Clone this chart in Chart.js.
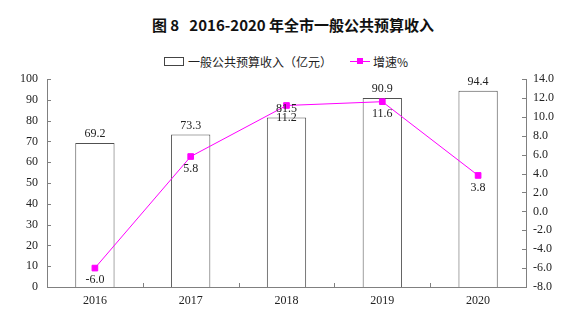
<!DOCTYPE html>
<html>
<head>
<meta charset="utf-8">
<script src="https://cdn.jsdelivr.net/npm/chart.js"></script>
<style>
	html, body { margin: 0; padding: 0; background: #fff; }
	#wrap { position: relative; width: 586px; height: 325px; }
	#title {
		position: absolute; left: 0; top: 14px; width: 586px; text-align: center;
		font: 15px "Noto Sans CJK SC", sans-serif; font-weight: 600; color: #111;
	}
	#legend {
		position: absolute; left: 164px; top: 52px; height: 18px;
		font: 12px "Noto Sans CJK SC", sans-serif; color: #222;
		display: flex; align-items: center; white-space: nowrap;
	}
	.box { width: 18px; height: 7px; border: 1px solid #444; background: #fff; margin-right: 4px; }
	.ln { position: relative; width: 20px; height: 1px; background: #ff00ff; margin: 0 3px 0 18px; }
	.ln i { position: absolute; left: 7px; top: -3px; width: 6px; height: 6px; background: #ff00ff; }
	canvas { position: absolute; left: 0; top: 0; }
</style>
</head>
<body>
<div id="wrap">
	<div id="title">图 8&nbsp;&nbsp;&nbsp;2016-2020 年全市一般公共预算收入</div>
	<div id="legend">
		<span class="box"></span><span>一般公共预算收入（亿元）</span>
		<span class="ln"><i></i></span><span>增速%</span>
	</div>
	<canvas id="revenue-chart" width="586" height="325"></canvas>
</div>
<script>
	const years = ['2016', '2017', '2018', '2019', '2020'];
	const revenue = [69.2, 73.3, 81.5, 90.9, 94.4];   // 亿元
	const growth = [-6.0, 5.8, 11.2, 11.6, 3.8];      // %

	const numFont = { family: '"Liberation Serif", "DejaVu Serif", serif', size: 12 };
	const axisColor = '#808080';

	// value labels: bars above the top, line points below the marker
	const valueLabels = {
		id: 'valueLabels',
		afterDatasetsDraw(chart) {
			const ctx = chart.ctx;
			ctx.save();
			ctx.font = '12px ' + numFont.family;
			ctx.fillStyle = '#222';
			ctx.textAlign = 'center';
			ctx.textBaseline = 'middle';
			chart.data.datasets.forEach((ds, i) => {
				chart.getDatasetMeta(i).data.forEach((el, j) => {
					const txt = ds.data[j].toFixed(1);
					if (ds.type === 'bar') {
						ctx.fillText(txt, el.x, el.y - 9);
					} else {
						ctx.fillText(txt, el.x, el.y + 12);
					}
				});
			});
			ctx.restore();
		}
	};

	// short tick marks pointing into the plot
	const innerTicks = {
		id: 'innerTicks',
		afterDraw(chart) {
			const ctx = chart.ctx;
			const area = chart.chartArea;
			const len = 4;
			ctx.save();
			ctx.strokeStyle = axisColor;
			ctx.lineWidth = 1;
			ctx.beginPath();
			chart.scales.y.ticks.forEach(t => {
				const y = Math.round(chart.scales.y.getPixelForValue(t.value)) + 0.5;
				ctx.moveTo(area.left, y);
				ctx.lineTo(area.left + len, y);
			});
			chart.scales.y1.ticks.forEach(t => {
				const y = Math.round(chart.scales.y1.getPixelForValue(t.value)) + 0.5;
				ctx.moveTo(area.right, y);
				ctx.lineTo(area.right - len, y);
			});
			const xs = chart.scales.x;
			for (let i = 1; i < years.length; i++) {
				const x = Math.round((xs.getPixelForValue(i - 1) + xs.getPixelForValue(i)) / 2) + 0.5;
				ctx.moveTo(x, area.bottom);
				ctx.lineTo(x, area.bottom - len);
			}
			ctx.stroke();
			ctx.restore();
		}
	};

	new Chart(document.getElementById('revenue-chart'), {
		data: {
			labels: years,
			datasets: [
				{
					type: 'line',
					label: '增速%',
					data: growth,
					yAxisID: 'y1',
					borderColor: '#ff00ff',
					backgroundColor: '#ff00ff',
					borderWidth: 1,
					pointStyle: 'rect',
					pointRadius: 4,
					pointHoverRadius: 4,
					tension: 0,
					order: 0
				},
				{
					type: 'bar',
					label: '一般公共预算收入（亿元）',
					data: revenue,
					yAxisID: 'y',
					backgroundColor: '#ffffff',
					borderColor: '#505050',
					borderWidth: 1,
					categoryPercentage: 1,
					barPercentage: 0.41,
					order: 1
				}
			]
		},
		options: {
			responsive: false,
			animation: false,
			layout: { padding: { top: 79, left: 0, right: 0, bottom: 0 } },
			plugins: {
				legend: { display: false },
				tooltip: { enabled: false }
			},
			scales: {
				x: {
					offset: true,
					grid: { display: false, drawTicks: false, offset: true },
					border: { display: true, color: axisColor },
					ticks: { color: '#222', font: numFont, padding: 7 },
					afterFit(s) { s.height = 38; }
				},
				y: {
					position: 'left',
					min: 0,
					max: 100,
					grid: { display: false, drawTicks: false },
					border: { display: true, color: axisColor },
					ticks: { stepSize: 10, color: '#222', font: numFont, padding: 9 },
					afterFit(s) { s.width = 47; }
				},
				y1: {
					position: 'right',
					min: -8,
					max: 14,
					grid: { display: false, drawTicks: false },
					border: { display: true, color: axisColor },
					ticks: {
						stepSize: 2,
						color: '#222',
						font: numFont,
						padding: 7,
						callback: v => v.toFixed(1)
					},
					afterFit(s) { s.width = 60; }
				}
			}
		},
		plugins: [valueLabels, innerTicks]
	});
</script>
</body>
</html>
